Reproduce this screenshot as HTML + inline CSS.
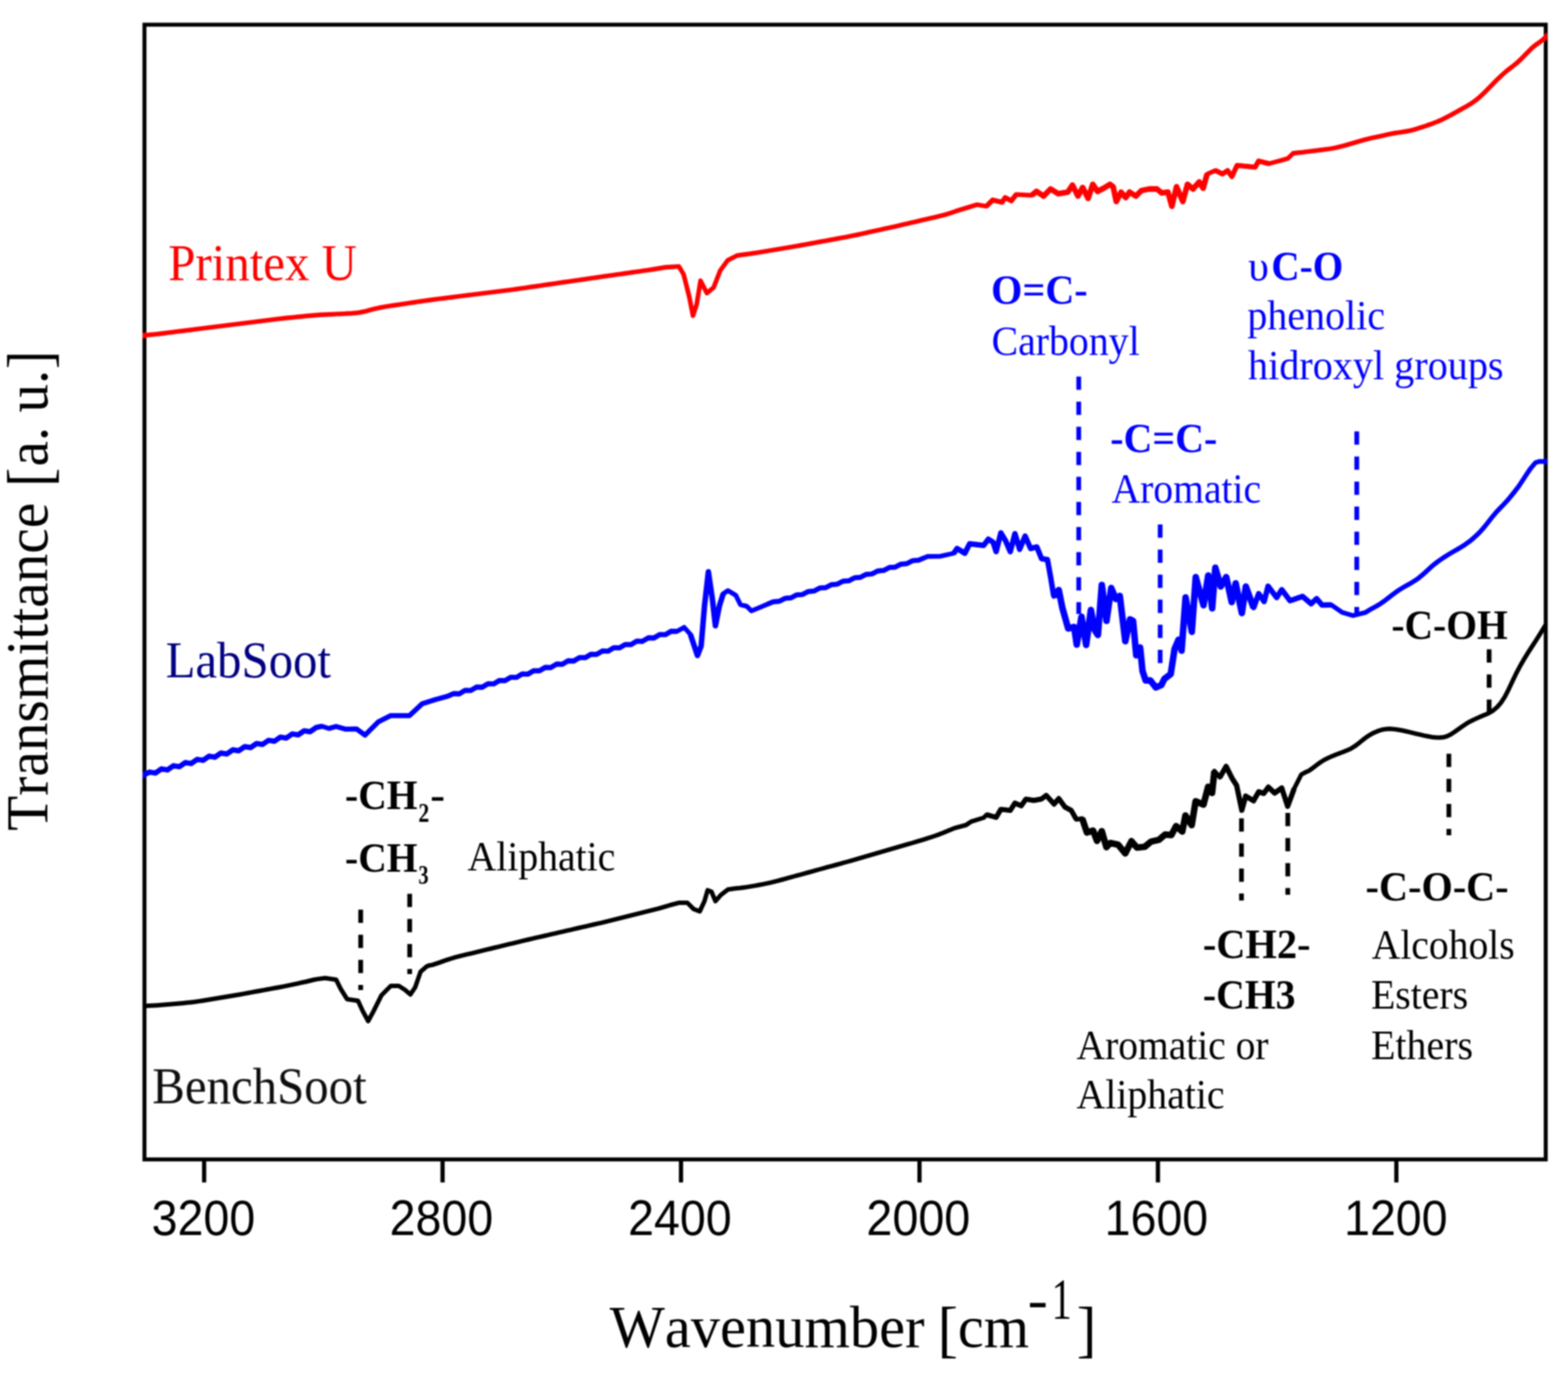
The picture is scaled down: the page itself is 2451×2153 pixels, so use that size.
<!DOCTYPE html>
<html lang="en"><head><meta charset="utf-8"><title>FTIR spectra</title>
<style>
html,body{margin:0;padding:0;background:#fff}
body{width:2451px;height:2153px;overflow:hidden}
svg{display:block}
text{font-family:"Liberation Serif","Times New Roman",serif;font-kerning:none}
.b{font-weight:bold}
.nm{font-size:76px}
.tk{font-family:"Liberation Sans",Arial,sans-serif}
.ax{font-size:96px;fill:#111}
.bl{fill:#0000ff}
.cv{fill:none;stroke-linejoin:round;stroke-linecap:butt}
.d{fill:none;stroke-width:7.4;stroke-dasharray:20.8 18.4}
</style></head><body>
<svg width="2451" height="2153" viewBox="0 0 2451 2153">
<defs><clipPath id="cc"><rect x="222.9" y="0" width="2195.1" height="2153"/></clipPath><filter id="bl" x="-2%" y="-2%" width="104%" height="104%"><feGaussianBlur stdDeviation="1.1"/></filter></defs>
<rect width="2451" height="2153" fill="#fff"/>
<g filter="url(#bl)">


<rect x="225.8" y="38.6" width="2190.3999999999996" height="1774.2" fill="none" stroke="#000" stroke-width="6.2"/>
<line x1="319.1" y1="1812.8" x2="319.1" y2="1848.8" stroke="#000" stroke-width="6.6"/>
<line x1="691.8" y1="1812.8" x2="691.8" y2="1848.8" stroke="#000" stroke-width="6.6"/>
<line x1="1064.5" y1="1812.8" x2="1064.5" y2="1848.8" stroke="#000" stroke-width="6.6"/>
<line x1="1437.3" y1="1812.8" x2="1437.3" y2="1848.8" stroke="#000" stroke-width="6.6"/>
<line x1="1810" y1="1812.8" x2="1810" y2="1848.8" stroke="#000" stroke-width="6.6"/>
<line x1="2182.7" y1="1812.8" x2="2182.7" y2="1848.8" stroke="#000" stroke-width="6.6"/>
<g clip-path="url(#cc)">
<polyline class="cv" stroke="#ff0000" stroke-width="7.2" points="221.0,525.0 226.0,524.4 232.0,523.7 238.0,523.1 244.0,522.5 250.0,521.8 256.0,521.1 262.0,520.3 268.0,519.6 274.0,518.8 280.0,518.0 286.0,517.3 292.0,516.5 298.0,515.8 304.0,515.0 310.0,514.2 316.0,513.5 322.0,512.7 328.0,512.0 334.0,511.2 340.0,510.5 346.0,509.7 352.0,509.0 358.0,508.2 364.0,507.5 370.0,506.7 376.0,506.0 382.0,505.2 388.0,504.5 394.0,503.7 400.0,503.0 406.0,502.2 412.0,501.5 418.0,500.7 424.0,500.0 430.0,499.2 436.0,498.5 442.0,497.9 448.0,497.2 454.0,496.6 460.0,496.0 466.0,495.4 472.0,494.8 478.0,494.2 484.0,493.7 490.0,493.1 496.0,492.6 502.0,492.2 508.0,491.9 514.0,491.6 520.0,491.3 526.0,491.0 532.0,490.8 538.0,490.5 544.0,490.2 550.0,489.9 556.0,489.3 562.0,488.6 568.0,487.4 574.0,485.9 580.0,484.3 586.0,482.7 592.0,481.4 598.0,480.3 604.0,479.3 610.0,478.3 616.0,477.4 622.0,476.5 628.0,475.6 634.0,474.7 640.0,473.8 646.0,472.9 652.0,472.0 658.0,471.1 664.0,470.3 670.0,469.4 676.0,468.6 682.0,467.8 688.0,467.0 694.0,466.3 700.0,465.5 706.0,464.8 712.0,464.0 718.0,463.2 724.0,462.5 730.0,461.7 736.0,461.0 742.0,460.2 748.0,459.5 754.0,458.7 760.0,458.0 766.0,457.2 772.0,456.5 778.0,455.7 784.0,455.0 790.0,454.2 796.0,453.5 802.0,452.7 808.0,451.9 814.0,451.0 820.0,450.2 826.0,449.3 832.0,448.4 838.0,447.6 844.0,446.7 850.0,445.8 856.0,444.9 862.0,444.1 868.0,443.2 874.0,442.3 880.0,441.4 886.0,440.6 892.0,439.7 898.0,438.8 904.0,438.0 910.0,437.1 916.0,436.2 922.0,435.3 928.0,434.5 934.0,433.6 940.0,432.7 946.0,431.9 952.0,431.0 958.0,430.2 964.0,429.3 970.0,428.5 976.0,427.6 982.0,426.7 988.0,425.9 994.0,425.0 1000.0,424.2 1006.0,423.3 1012.0,422.5 1018.0,421.6 1024.0,420.6 1030.0,419.6 1036.0,418.6 1040.7,417.8 1061.2,416.6 1068.6,429.0 1077.4,464.0 1083.2,493.5 1089.0,476.0 1095.0,439.0 1105.0,458.3 1115.5,449.5 1125.8,423.0 1137.5,407.0 1152.0,399.6 1160.0,398.3 1166.0,397.6 1172.0,396.8 1178.0,395.9 1184.0,395.0 1190.0,394.0 1196.0,393.0 1202.0,392.0 1208.0,391.0 1214.0,390.0 1220.0,389.0 1226.0,388.0 1232.0,387.0 1238.0,386.0 1244.0,385.0 1250.0,383.9 1256.0,382.8 1262.0,381.7 1268.0,380.6 1274.0,379.5 1280.0,378.4 1286.0,377.3 1292.0,376.2 1298.0,375.1 1304.0,374.0 1310.0,372.9 1316.0,371.8 1322.0,370.7 1328.0,369.5 1334.0,368.3 1340.0,367.1 1346.0,365.8 1352.0,364.5 1358.0,363.1 1364.0,361.8 1370.0,360.5 1376.0,359.2 1382.0,357.8 1388.0,356.5 1394.0,355.2 1400.0,353.9 1406.0,352.5 1412.0,351.1 1418.0,349.7 1424.0,348.3 1430.0,346.9 1436.0,345.5 1442.0,344.1 1448.0,342.7 1454.0,341.3 1460.0,339.9 1466.0,338.5 1472.0,337.0 1478.0,335.5 1484.0,333.6 1490.0,331.6 1496.0,329.5 1527.2,320.0 1541.9,322.5 1551.7,312.7 1566.3,316.3 1571.2,309.0 1581.0,313.9 1588.4,304.1 1612.8,305.3 1620.2,299.2 1631.2,306.6 1642.2,295.5 1654.4,302.9 1669.1,300.4 1676.4,289.4 1685.0,306.6 1692.3,293.1 1700.9,310.2 1708.2,288.2 1715.6,299.2 1725.3,294.3 1735.1,288.2 1740.0,291.9 1744.9,315.1 1752.3,300.4 1759.6,309.0 1765.7,300.4 1775.5,306.6 1784.1,298.0 1796.3,295.5 1808.5,295.5 1815.9,301.7 1825.6,300.4 1831.8,322.5 1839.1,291.9 1848.9,315.1 1856.2,288.2 1864.8,295.5 1874.6,284.5 1880.7,294.3 1886.8,272.3 1900.0,266.5 1910.8,272.0 1918.9,266.7 1925.6,276.1 1933.7,258.6 1962.0,261.3 1967.4,251.8 1983.6,255.9 2013.2,247.8 2021.3,239.7 2030.0,238.7 2036.0,238.1 2042.0,237.3 2048.0,236.5 2054.0,235.8 2060.0,235.0 2066.0,234.3 2072.0,233.5 2078.0,232.7 2084.0,231.7 2090.0,230.5 2096.0,229.0 2102.0,227.5 2108.0,225.8 2114.0,224.0 2120.0,222.2 2126.0,220.5 2132.0,218.8 2138.0,217.2 2144.0,215.8 2150.0,214.5 2156.0,213.3 2162.0,212.0 2168.0,210.6 2174.0,209.3 2180.0,208.1 2186.0,207.2 2192.0,206.4 2198.0,205.4 2204.0,204.2 2210.0,202.7 2216.0,200.9 2222.0,199.0 2228.0,197.1 2234.0,195.0 2240.0,192.9 2246.0,190.5 2252.0,187.9 2258.0,185.0 2264.0,181.9 2270.0,178.7 2276.0,175.3 2282.0,172.0 2288.0,168.7 2294.0,165.3 2300.0,161.6 2306.0,157.4 2312.0,152.6 2318.0,147.0 2324.0,141.1 2330.0,134.9 2336.0,128.8 2342.0,122.8 2348.0,117.1 2354.0,111.9 2360.0,107.1 2366.0,102.5 2372.0,97.6 2378.0,92.0 2384.0,85.8 2390.0,79.7 2396.0,73.9 2402.0,69.2 2408.0,65.0 2414.0,60.0 2420.0,54.5"/>
<polyline class="cv" stroke="#ff0000" stroke-width="7.8" stroke-linecap="round" points="1541.9,322.5 1551.7,312.7 1566.3,316.3 1571.2,309.0 1581.0,313.9 1588.4,304.1"/>
<polyline class="cv" stroke="#ff0000" stroke-width="8.8" stroke-linecap="round" points="1612.8,305.3 1620.2,299.2 1631.2,306.6 1642.2,295.5 1654.4,302.9 1669.1,300.4 1676.4,289.4 1685.0,306.6 1692.3,293.1 1700.9,310.2 1708.2,288.2 1715.6,299.2 1725.3,294.3 1735.1,288.2 1740.0,291.9 1744.9,315.1 1752.3,300.4 1759.6,309.0 1765.7,300.4 1775.5,306.6 1784.1,298.0 1796.3,295.5 1808.5,295.5 1815.9,301.7 1825.6,300.4 1831.8,322.5 1839.1,291.9 1848.9,315.1 1856.2,288.2 1864.8,295.5 1874.6,284.5 1880.7,294.3 1886.8,272.3"/>
<polyline class="cv" stroke="#ff0000" stroke-width="7.8" stroke-linecap="round" points="1900.0,266.5 1910.8,272.0 1918.9,266.7 1925.6,276.1 1933.7,258.6 1962.0,261.3 1967.4,251.8 1983.6,255.9"/>
</g>
<g clip-path="url(#cc)">
<polyline class="cv" stroke="#0000ff" stroke-width="7.4" points="221.0,1212.6 224.5,1211.7 233.8,1207.2 243.1,1208.7 252.4,1202.2 261.7,1203.8 271.0,1197.3 280.3,1198.8 289.6,1192.3 298.8,1193.8 308.1,1187.3 317.4,1188.8 326.7,1182.3 336.0,1183.9 345.3,1177.4 354.6,1178.9 363.9,1172.4 373.2,1173.9 382.5,1167.4 391.8,1168.9 401.1,1162.5 410.4,1164.0 419.7,1157.5 429.0,1159.0 438.2,1152.5 447.5,1154.0 456.8,1147.5 466.1,1149.0 475.4,1142.6 484.7,1144.1 494.0,1137.6 503.3,1135.5 514.0,1139.0 525.3,1135.9 540.0,1140.0 557.1,1139.6 570.6,1149.4 591.4,1128.6 611.0,1118.8 640.3,1118.8 659.9,1100.4 680.0,1094.0 700.0,1088.5 709.0,1084.5 717.9,1084.8 726.9,1079.4 735.8,1079.6 744.8,1074.3 753.7,1074.5 762.7,1069.1 771.6,1069.4 780.6,1064.0 789.5,1064.2 798.5,1058.9 807.4,1059.1 816.4,1053.7 825.3,1054.0 834.3,1048.6 843.2,1048.8 852.2,1043.5 861.1,1043.7 870.1,1038.3 879.0,1038.6 888.0,1033.2 896.9,1033.5 905.9,1028.1 914.8,1028.3 923.8,1023.0 932.7,1023.2 941.7,1017.8 950.6,1018.1 959.6,1012.7 968.5,1012.9 977.5,1007.6 986.4,1007.8 995.4,1002.4 1004.3,1002.7 1013.3,997.3 1022.2,997.5 1031.2,992.2 1040.1,992.4 1049.1,987.0 1058.0,987.3 1069.4,980.9 1079.2,991.9 1090.2,1024.9 1096.0,1010.0 1101.2,947.8 1107.3,894.0 1113.4,935.6 1118.3,978.4 1124.4,947.8 1130.5,928.3 1137.9,923.4 1150.1,930.7 1157.4,945.4 1167.2,947.8 1174.6,955.2 1189.2,949.1 1200.0,944.5 1200.0,944.5 1209.1,940.8 1218.1,940.2 1227.2,935.5 1236.2,934.8 1245.3,930.1 1254.4,929.5 1263.4,924.8 1272.5,924.1 1281.5,919.4 1290.6,918.8 1299.7,914.1 1308.7,913.4 1317.8,908.7 1326.8,908.1 1335.9,903.4 1344.9,902.7 1354.0,898.0 1363.1,897.4 1372.1,892.7 1381.2,892.0 1390.2,887.3 1399.3,886.7 1408.4,882.0 1417.4,881.3 1426.5,876.6 1435.5,876.0 1444.6,872.3 1450.0,870.0 1469.0,869.9 1491.0,865.0 1496.0,857.6 1508.2,865.0 1515.6,850.3 1537.6,852.7 1544.9,843.0 1552.3,847.8 1557.1,862.5 1564.5,833.2 1571.8,845.4 1579.2,862.5 1586.5,834.4 1593.8,858.9 1602.4,838.1 1611.0,857.6 1620.7,855.2 1628.1,873.5 1637.3,875.0 1642.2,902.0 1647.2,932.5 1655.0,922.5 1660.5,950.0 1669.7,982.7 1679.0,980.3 1683.1,1007.8 1690.5,964.4 1697.8,1008.4 1705.2,953.7 1711.3,985.5 1716.2,992.8 1722.3,914.5 1729.6,970.8 1737.0,919.4 1744.3,936.6 1750.4,931.7 1759.0,1002.6 1766.3,968.4 1771.2,970.8 1776.1,1024.6 1782.2,1012.4 1785.9,1049.1 1790.8,1063.8 1798.1,1063.8 1806.7,1074.8 1815.3,1071.1 1820.2,1061.3 1830.0,1054.0 1836.0,1014.8 1842.2,1000.2 1847.0,1017.3 1853.2,934.1 1863.0,987.9 1869.1,902.3 1881.3,946.3 1888.6,899.9 1894.8,951.2 1899.7,887.6 1908.2,917.0 1916.8,902.3 1925.3,941.4 1931.5,912.1 1941.2,958.6 1947.4,917.0 1959.6,950.5 1967.5,928.2 1976.0,940.5 1982.2,916.5 1995.5,934.3 2003.6,922.0 2016.5,939.2 2036.0,932.5 2049.5,944.0 2058.0,936.0 2066.5,946.0 2081.0,945.8 2098.0,957.5 2114.9,962.5 2134.5,957.6 2140.0,954.1 2146.0,950.8 2152.0,947.5 2158.0,943.8 2164.0,939.6 2170.0,935.0 2176.0,930.3 2182.0,925.9 2188.0,921.8 2194.0,918.1 2200.0,914.7 2206.0,911.4 2212.0,907.7 2218.0,903.4 2224.0,898.4 2230.0,892.9 2236.0,887.4 2242.0,882.3 2248.0,877.7 2254.0,873.5 2260.0,869.6 2266.0,865.9 2272.0,862.4 2278.0,859.0 2284.0,855.4 2290.0,851.6 2296.0,847.3 2302.0,842.5 2308.0,837.1 2314.0,831.1 2320.0,824.2 2326.0,816.7 2332.0,809.0 2338.0,801.8 2344.0,795.4 2350.0,789.2 2356.0,782.8 2362.0,775.6 2368.0,768.1 2374.0,760.3 2380.0,751.3 2386.0,742.1 2392.0,733.1 2400.0,723.5 2406.0,721.5 2420.0,721.5"/>
<polyline class="cv" stroke="#0000ff" stroke-width="8.2" stroke-linecap="round" points="224.5,1211.7 233.8,1207.2 243.1,1208.7 252.4,1202.2 261.7,1203.8 271.0,1197.3 280.3,1198.8 289.6,1192.3 298.8,1193.8 308.1,1187.3 317.4,1188.8 326.7,1182.3 336.0,1183.9 345.3,1177.4 354.6,1178.9 363.9,1172.4 373.2,1173.9 382.5,1167.4 391.8,1168.9 401.1,1162.5 410.4,1164.0 419.7,1157.5 429.0,1159.0 438.2,1152.5 447.5,1154.0 456.8,1147.5 466.1,1149.0 475.4,1142.6 484.7,1144.1 494.0,1137.6 503.3,1135.5"/>
<polyline class="cv" stroke="#0000ff" stroke-width="7.7" stroke-linecap="round" points="514.0,1139.0 525.3,1135.9 540.0,1140.0 557.1,1139.6 570.6,1149.4 591.4,1128.6 611.0,1118.8 640.3,1118.8 659.9,1100.4 680.0,1094.0 700.0,1088.5"/>
<polyline class="cv" stroke="#0000ff" stroke-width="7.9" stroke-linecap="round" points="700.0,1088.5 709.0,1084.5 717.9,1084.8 726.9,1079.4 735.8,1079.6 744.8,1074.3 753.7,1074.5 762.7,1069.1 771.6,1069.4 780.6,1064.0 789.5,1064.2 798.5,1058.9 807.4,1059.1 816.4,1053.7 825.3,1054.0 834.3,1048.6 843.2,1048.8 852.2,1043.5 861.1,1043.7 870.1,1038.3 879.0,1038.6 888.0,1033.2 896.9,1033.5 905.9,1028.1 914.8,1028.3 923.8,1023.0 932.7,1023.2 941.7,1017.8 950.6,1018.1 959.6,1012.7 968.5,1012.9 977.5,1007.6 986.4,1007.8 995.4,1002.4 1004.3,1002.7 1013.3,997.3 1022.2,997.5 1031.2,992.2 1040.1,992.4 1049.1,987.0 1058.0,987.3"/>
<polyline class="cv" stroke="#0000ff" stroke-width="8.6" stroke-linecap="round" points="1079.2,991.9 1090.2,1024.9 1096.0,1010.0 1101.2,947.8 1107.3,894.0 1113.4,935.6 1118.3,978.4 1124.4,947.8 1130.5,928.3"/>
<polyline class="cv" stroke="#0000ff" stroke-width="7.7" stroke-linecap="round" points="1200.0,944.5 1200.0,944.5 1209.1,940.8 1218.1,940.2 1227.2,935.5 1236.2,934.8 1245.3,930.1 1254.4,929.5 1263.4,924.8 1272.5,924.1 1281.5,919.4 1290.6,918.8 1299.7,914.1 1308.7,913.4 1317.8,908.7 1326.8,908.1 1335.9,903.4 1344.9,902.7 1354.0,898.0 1363.1,897.4 1372.1,892.7 1381.2,892.0 1390.2,887.3 1399.3,886.7 1408.4,882.0 1417.4,881.3 1426.5,876.6 1435.5,876.0 1444.6,872.3"/>
<polyline class="cv" stroke="#0000ff" stroke-width="8.5" stroke-linecap="round" points="1491.0,865.0 1496.0,857.6 1508.2,865.0 1515.6,850.3 1537.6,852.7 1544.9,843.0 1552.3,847.8 1557.1,862.5 1564.5,833.2 1571.8,845.4 1579.2,862.5 1586.5,834.4 1593.8,858.9 1602.4,838.1 1611.0,857.6 1620.7,855.2 1628.1,873.5 1637.3,875.0 1642.2,902.0 1647.2,932.5"/>
<polyline class="cv" stroke="#0000ff" stroke-width="10.2" stroke-linecap="round" points="1647.2,932.5 1655.0,922.5 1660.5,950.0 1669.7,982.7 1679.0,980.3 1683.1,1007.8 1690.5,964.4 1697.8,1008.4 1705.2,953.7 1711.3,985.5 1716.2,992.8 1722.3,914.5 1729.6,970.8 1737.0,919.4 1744.3,936.6 1750.4,931.7 1759.0,1002.6 1766.3,968.4 1771.2,970.8 1776.1,1024.6 1782.2,1012.4 1785.9,1049.1 1790.8,1063.8 1798.1,1063.8 1806.7,1074.8 1815.3,1071.1 1820.2,1061.3 1830.0,1054.0 1836.0,1014.8 1842.2,1000.2 1847.0,1017.3 1853.2,934.1 1863.0,987.9 1869.1,902.3 1881.3,946.3 1888.6,899.9 1894.8,951.2 1899.7,887.6 1908.2,917.0 1916.8,902.3 1925.3,941.4 1931.5,912.1 1941.2,958.6 1947.4,917.0 1959.6,950.5"/>
<polyline class="cv" stroke="#0000ff" stroke-width="8.5" stroke-linecap="round" points="1959.6,950.5 1967.5,928.2 1976.0,940.5 1982.2,916.5 1995.5,934.3 2003.6,922.0 2016.5,939.2 2036.0,932.5 2049.5,944.0 2058.0,936.0 2066.5,946.0 2081.0,945.8"/>
</g>
<g clip-path="url(#cc)">
<polyline class="cv" stroke="#000" stroke-width="7.0" points="221.0,1573.5 226.0,1573.1 232.0,1572.6 238.0,1572.3 244.0,1571.9 250.0,1571.4 256.0,1570.9 262.0,1570.4 268.0,1569.9 274.0,1569.4 280.0,1568.9 286.0,1568.4 292.0,1567.8 298.0,1567.2 304.0,1566.5 310.0,1565.6 316.0,1564.7 322.0,1563.7 328.0,1562.7 334.0,1561.7 340.0,1560.8 346.0,1559.8 352.0,1558.8 358.0,1557.8 364.0,1556.7 370.0,1555.7 376.0,1554.7 382.0,1553.6 388.0,1552.5 394.0,1551.4 400.0,1550.3 406.0,1549.2 412.0,1548.1 418.0,1547.0 424.0,1545.9 430.0,1544.8 436.0,1543.7 442.0,1542.6 448.0,1541.4 454.0,1540.1 460.0,1538.9 466.0,1537.6 472.0,1536.2 478.0,1535.0 484.0,1533.5 490.0,1532.0 496.0,1530.9 508.2,1529.2 525.3,1531.7 532.7,1546.3 542.5,1562.2 559.6,1564.7 566.9,1580.6 575.5,1596.5 584.1,1580.6 596.3,1556.1 611.0,1541.4 623.2,1541.4 633.0,1547.6 641.5,1554.9 648.9,1543.9 657.4,1519.4 667.2,1510.9 670.0,1509.8 676.0,1508.6 682.0,1506.6 688.0,1504.6 694.0,1502.4 700.0,1500.4 706.0,1498.5 712.0,1496.7 718.0,1495.2 724.0,1493.7 730.0,1492.2 736.0,1490.8 742.0,1489.3 748.0,1487.9 754.0,1486.4 760.0,1484.9 766.0,1483.5 772.0,1482.0 778.0,1480.6 784.0,1479.1 790.0,1477.7 796.0,1476.2 802.0,1474.8 808.0,1473.3 814.0,1471.9 820.0,1470.4 826.0,1469.0 832.0,1467.6 838.0,1466.2 844.0,1464.8 850.0,1463.5 856.0,1462.1 862.0,1460.7 868.0,1459.3 874.0,1457.9 880.0,1456.6 886.0,1455.2 892.0,1453.8 898.0,1452.4 904.0,1451.0 910.0,1449.7 916.0,1448.3 922.0,1446.9 928.0,1445.5 934.0,1444.1 940.0,1442.8 946.0,1441.3 952.0,1439.9 958.0,1438.4 964.0,1436.9 970.0,1435.4 976.0,1433.9 982.0,1432.4 988.0,1430.9 994.0,1429.4 1000.0,1427.9 1006.0,1426.4 1012.0,1424.9 1018.0,1423.4 1024.0,1421.9 1030.0,1420.4 1036.0,1418.6 1042.0,1416.8 1048.0,1415.0 1062.0,1411.4 1074.3,1411.4 1084.1,1421.2 1093.8,1424.9 1101.2,1409.0 1106.1,1391.9 1112.2,1394.3 1118.3,1409.0 1126.9,1399.2 1137.9,1390.7 1150.0,1389.0 1156.0,1388.5 1162.0,1387.7 1168.0,1386.9 1174.0,1385.9 1180.0,1384.9 1186.0,1383.8 1192.0,1382.6 1198.0,1381.4 1204.0,1380.1 1210.0,1378.6 1216.0,1377.1 1222.0,1375.5 1228.0,1373.8 1234.0,1372.2 1240.0,1370.5 1246.0,1368.9 1252.0,1367.3 1258.0,1365.6 1264.0,1364.0 1270.0,1362.3 1276.0,1360.7 1282.0,1359.0 1288.0,1357.4 1294.0,1355.7 1300.0,1354.1 1306.0,1352.5 1312.0,1350.8 1318.0,1349.2 1324.0,1347.5 1330.0,1345.8 1336.0,1344.1 1342.0,1342.3 1348.0,1340.6 1354.0,1338.9 1360.0,1337.1 1366.0,1335.4 1372.0,1333.6 1378.0,1331.9 1384.0,1330.2 1390.0,1328.4 1396.0,1326.7 1402.0,1324.9 1408.0,1323.2 1414.0,1321.4 1420.0,1319.7 1426.0,1318.0 1432.0,1316.2 1438.0,1314.4 1444.0,1312.6 1450.0,1310.7 1456.0,1308.7 1462.0,1306.7 1468.0,1304.6 1474.0,1302.2 1480.0,1299.7 1486.0,1297.2 1493.5,1294.3 1510.0,1290.0 1518.0,1284.6 1537.6,1278.5 1542.5,1273.8 1557.1,1278.0 1564.5,1265.4 1579.2,1267.1 1586.5,1255.7 1596.3,1259.9 1603.6,1249.5 1615.9,1251.5 1628.1,1249.2 1635.4,1243.6 1647.7,1257.2 1655.0,1248.6 1664.7,1261.9 1674.5,1267.1 1682.5,1281.2 1691.6,1279.7 1699.0,1301.6 1708.7,1298.7 1714.8,1314.8 1722.2,1299.5 1729.5,1324.6 1735.6,1318.0 1747.8,1320.7 1758.9,1334.4 1768.6,1315.2 1777.2,1325.3 1789.4,1324.0 1799.2,1315.9 1811.5,1313.1 1821.2,1304.9 1831.0,1305.6 1838.4,1291.7 1848.1,1300.1 1853.0,1275.0 1862.8,1290.2 1868.9,1252.8 1881.2,1258.1 1888.5,1230.1 1894.6,1239.9 1898.3,1205.6 1906.8,1215.4 1916.6,1198.3 1926.4,1217.8 1933.0,1228.0 1941.1,1266.8 1947.2,1244.8 1959.4,1252.1 1967.5,1238.0 1975.4,1240.5 1982.7,1230.7 1992.5,1239.9 2003.5,1232.0 2012.8,1260.7 2023.0,1233.0 2034.1,1211.0 2040.0,1207.8 2046.0,1205.1 2052.0,1200.8 2058.0,1196.3 2064.0,1191.9 2070.0,1188.1 2076.0,1185.1 2082.0,1182.4 2088.0,1180.0 2094.0,1177.7 2100.0,1175.5 2106.0,1173.1 2112.0,1170.3 2118.0,1166.6 2124.0,1162.0 2130.0,1157.1 2136.0,1152.5 2142.0,1148.6 2148.0,1145.4 2154.0,1142.9 2160.0,1141.0 2166.0,1139.9 2172.0,1139.6 2178.0,1139.9 2184.0,1140.7 2190.0,1141.8 2196.0,1143.0 2202.0,1144.4 2208.0,1145.8 2214.0,1147.3 2220.0,1148.7 2226.0,1150.1 2232.0,1151.3 2238.0,1152.4 2244.0,1153.1 2250.0,1153.3 2256.0,1152.8 2262.0,1151.1 2268.0,1148.2 2274.0,1144.2 2280.0,1139.9 2286.0,1135.6 2292.0,1131.6 2298.0,1128.1 2304.0,1125.1 2310.0,1122.4 2316.0,1119.8 2322.0,1117.3 2328.0,1114.5 2334.0,1110.9 2340.0,1105.9 2346.0,1099.0 2352.0,1089.8 2358.0,1078.3 2364.0,1065.5 2370.0,1053.0 2376.0,1041.6 2382.0,1031.2 2388.0,1021.4 2394.0,1012.0 2400.0,1002.8 2406.0,993.3 2412.0,983.7 2418.0,973.8 2420.0,971.0"/>
<polyline class="cv" stroke="#000" stroke-width="8.0" stroke-linecap="round" points="1542.5,1273.8 1557.1,1278.0 1564.5,1265.4 1579.2,1267.1 1586.5,1255.7 1596.3,1259.9 1603.6,1249.5 1615.9,1251.5 1628.1,1249.2 1635.4,1243.6 1647.7,1257.2 1655.0,1248.6 1664.7,1261.9 1674.5,1267.1 1682.5,1281.2"/>
<polyline class="cv" stroke="#000" stroke-width="10.2" stroke-linecap="round" points="1691.6,1279.7 1699.0,1301.6 1708.7,1298.7 1714.8,1314.8 1722.2,1299.5 1729.5,1324.6 1735.6,1318.0 1747.8,1320.7 1758.9,1334.4 1768.6,1315.2 1777.2,1325.3 1789.4,1324.0 1799.2,1315.9 1811.5,1313.1 1821.2,1304.9 1831.0,1305.6 1838.4,1291.7 1848.1,1300.1 1853.0,1275.0 1862.8,1290.2 1868.9,1252.8 1881.2,1258.1 1888.5,1230.1 1894.6,1239.9 1898.3,1205.6"/>
<polyline class="cv" stroke="#000" stroke-width="8.2" stroke-linecap="round" points="1906.8,1215.4 1916.6,1198.3 1926.4,1217.8 1933.0,1228.0 1941.1,1266.8 1947.2,1244.8 1959.4,1252.1 1967.5,1238.0 1975.4,1240.5 1982.7,1230.7 1992.5,1239.9 2003.5,1232.0 2012.8,1260.7 2023.0,1233.0"/>
</g>
<line class="d" x1="1686.2" y1="588.8" x2="1686.2" y2="960" stroke="#0000ff"/>
<line class="d" x1="1813.5" y1="820" x2="1813.5" y2="1040" stroke="#0000ff"/>
<line class="d" x1="2120.8" y1="674.5" x2="2120.8" y2="958" stroke="#0000ff"/>
<line class="d" x1="563.8" y1="1422.3" x2="563.8" y2="1548" stroke="#000"/>
<line class="d" x1="640.4" y1="1397.5" x2="640.4" y2="1523" stroke="#000"/>
<line class="d" x1="1940.6" y1="1279.5" x2="1940.6" y2="1408" stroke="#000"/>
<line class="d" x1="2013" y1="1271" x2="2013" y2="1399" stroke="#000"/>
<line class="d" x1="2327.7" y1="1015.3" x2="2327.7" y2="1113.5" stroke="#000"/>
<line class="d" x1="2264.8" y1="1178.5" x2="2264.8" y2="1306" stroke="#000"/>
<text class="tk" transform="translate(237.1,1931.0) scale(0.9324,1)" font-size="78" fill="#000">3200</text>
<text class="tk" transform="translate(609.0,1931.0) scale(0.9332,1)" font-size="78" fill="#000">2800</text>
<text class="tk" transform="translate(981.8,1931.0) scale(0.9332,1)" font-size="78" fill="#000">2400</text>
<text class="tk" transform="translate(1354.3,1931.0) scale(0.9361,1)" font-size="78" fill="#000">2000</text>
<text class="tk" transform="translate(1726.8,1931.0) scale(0.9317,1)" font-size="78" fill="#000">1600</text>
<text class="tk" transform="translate(2101.0,1931.0) scale(0.9323,1)" font-size="78" fill="#000">1200</text>
<text fill="#000"><tspan x="953.0" y="2106" font-size="93" textLength="492.17" lengthAdjust="spacingAndGlyphs">Wavenumber</tspan> <tspan x="1465.5" y="2111.4" font-size="97" textLength="32.01" lengthAdjust="spacingAndGlyphs">[</tspan><tspan x="1497.3" y="2106" font-size="93" textLength="111.35" lengthAdjust="spacingAndGlyphs">cm</tspan><tspan x="1606.5" y="2062" font-size="92" textLength="31.37" lengthAdjust="spacingAndGlyphs">-</tspan><tspan x="1643.7" y="2062" font-size="92" textLength="31.5" lengthAdjust="spacingAndGlyphs">1</tspan><tspan x="1683.0" y="2111.4" font-size="97" textLength="30.76" lengthAdjust="spacingAndGlyphs">]</tspan></text>
<text transform="rotate(-90)" fill="#000"><tspan x="-1299.0" y="73.5" font-size="93" textLength="512.96" lengthAdjust="spacingAndGlyphs">Transmittance</tspan> <tspan x="-761.2" y="78.5" font-size="97" textLength="29.95" lengthAdjust="spacingAndGlyphs">[</tspan><tspan x="-729.3" y="73.5" font-size="93" textLength="151.11" lengthAdjust="spacingAndGlyphs">a. u.</tspan><tspan x="-576.9" y="78.5" font-size="97" textLength="28.65" lengthAdjust="spacingAndGlyphs">]</tspan></text>
<text transform="translate(263.1,437.8) scale(0.9546,1)" font-size="80" fill="#ff0000">Printex U</text>
<text transform="translate(258.9,1058.9) scale(0.9536,1)" font-size="80" fill="#000080">LabSoot</text>
<text transform="translate(238.1,1724.9) scale(0.9545,1)" font-size="80" fill="#0a0a0a">BenchSoot</text>
<text class="b" transform="translate(1549.3,475.4) scale(0.9661,1)" font-size="65" fill="#0000ff">O=C-</text>
<text transform="translate(1549.9,554.9) scale(0.9575,1)" font-size="65" fill="#0000ff">Carbonyl</text>
<text class="b" transform="translate(1735.4,706.5) scale(0.9609,1)" font-size="65" fill="#0000ff">-C=C-</text>
<text transform="translate(1737.5,785.5) scale(0.9523,1)" font-size="65" fill="#0000ff">Aromatic</text>
<text fill="#0000ff"><tspan x="1950.9" y="437.5" font-size="65" textLength="32.5" lengthAdjust="spacingAndGlyphs">υ</tspan><tspan class="b" x="1987.3" y="437.5" font-size="65" textLength="112.45" lengthAdjust="spacingAndGlyphs">C-O</tspan></text>
<text transform="translate(1949.8,514.5) scale(0.9621,1)" font-size="65" fill="#0000ff">phenolic</text>
<text transform="translate(1950.8,592.8) scale(0.9663,1)" font-size="65" fill="#0000ff">hidroxyl groups</text>
<text class="b" transform="translate(2174.9,999.0) scale(0.9503,1)" font-size="65" fill="#000">-C-OH</text>
<text class="b" transform="translate(2134.6,1408.4) scale(0.9684,1)" font-size="65" fill="#000">-C-O-C-</text>
<text transform="translate(2144.2,1498.5) scale(0.9522,1)" font-size="65" fill="#000">Alcohols</text>
<text transform="translate(2143.2,1577.3) scale(0.9546,1)" font-size="65" fill="#000">Esters</text>
<text transform="translate(2143.2,1656.2) scale(0.9597,1)" font-size="65" fill="#000">Ethers</text>
<text class="b" transform="translate(1880.3,1498.3) scale(0.9708,1)" font-size="65" fill="#000">-CH2-</text>
<text class="b" transform="translate(1880.3,1577.0) scale(0.9551,1)" font-size="65" fill="#000">-CH3</text>
<text transform="translate(1682.8,1655.5) scale(0.9503,1)" font-size="65" fill="#000">Aromatic or</text>
<text transform="translate(1682.8,1732.5) scale(0.9566,1)" font-size="65" fill="#000">Aliphatic</text>
<text fill="#000"><tspan class="b" x="539.3" y="1264.8" font-size="65" textLength="113.33" lengthAdjust="spacingAndGlyphs">-CH</tspan><tspan class="b" x="654.0" y="1285.3" font-size="42" textLength="17.02" lengthAdjust="spacingAndGlyphs">2</tspan><tspan class="b" x="672.4" y="1264.8" font-size="65" textLength="23.09" lengthAdjust="spacingAndGlyphs">-</tspan></text>
<text fill="#000"><tspan class="b" x="539.3" y="1362.7" font-size="65" textLength="113.33" lengthAdjust="spacingAndGlyphs">-CH</tspan><tspan class="b" x="654.0" y="1382" font-size="42" textLength="15.92" lengthAdjust="spacingAndGlyphs">3</tspan></text>
<text transform="translate(730.8,1361.0) scale(0.9557,1)" font-size="65" fill="#000">Aliphatic</text>
</g></svg></body></html>
